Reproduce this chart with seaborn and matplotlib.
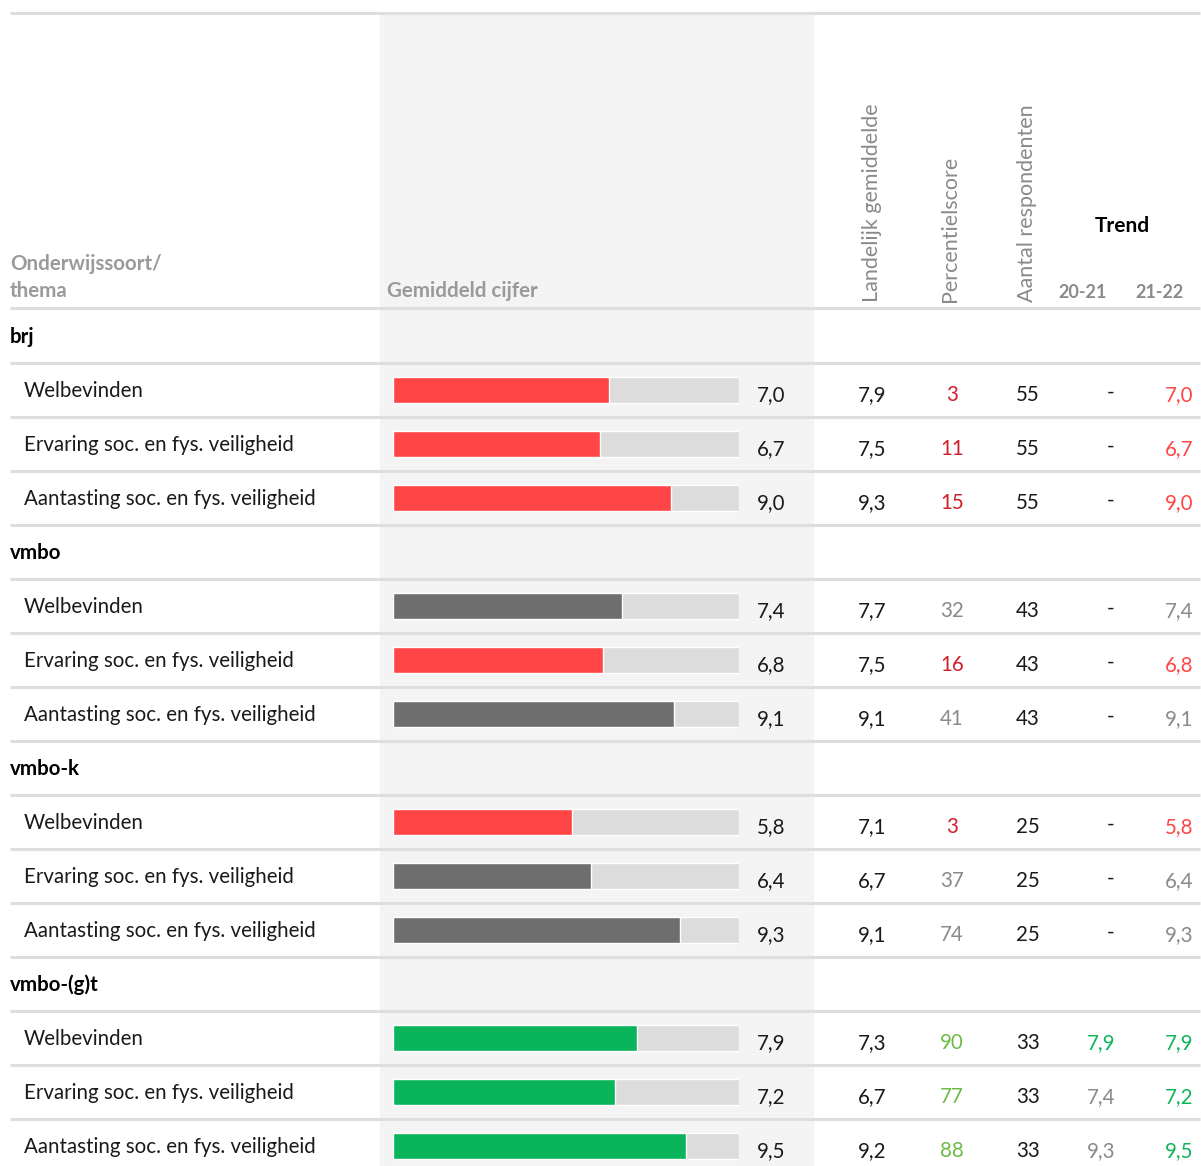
import matplotlib
matplotlib.use("Agg")
import matplotlib.pyplot as plt
import seaborn as sns
import pandas as pd

# ---------------- data ----------------
groups = ["brj", "vmbo", "vmbo-k", "vmbo-(g)t"]
themes = ["Welbevinden", "Ervaring soc. en fys. veiligheid", "Aantasting soc. en fys. veiligheid"]
gemiddeld = [7.0, 6.7, 9.0, 7.4, 6.8, 9.1, 5.8, 6.4, 9.3, 7.9, 7.2, 9.5]
landelijk = [7.9, 7.5, 9.3, 7.7, 7.5, 9.1, 7.1, 6.7, 9.1, 7.3, 6.7, 9.2]
percentiel = [3, 11, 15, 32, 16, 41, 3, 37, 74, 90, 77, 88]
respondenten = [55, 55, 55, 43, 43, 43, 25, 25, 25, 33, 33, 33]
trend_2021 = [None, None, None, None, None, None, None, None, None, 7.9, 7.4, 9.3]
trend_2122 = [7.0, 6.7, 9.0, 7.4, 6.8, 9.1, 5.8, 6.4, 9.3, 7.9, 7.2, 9.5]
status = ["laag", "laag", "laag", "gem", "laag", "gem", "laag", "gem", "gem", "hoog", "hoog", "hoog"]
status_2021 = [None] * 9 + ["hoog", "gem", "gem"]
scale_max = 11.2

# ---------------- styles ----------------
bar_colors = {"laag": "#ff4545", "gem": "#6e6e6e", "hoog": "#0ab45a"}
pct_colors = {"laag": "#d0202c", "gem": "#8a8a8a", "hoog": "#6dbb45"}
trend_colors = {"laag": "#ff4545", "gem": "#8a8a8a", "hoog": "#10b45a"}
FONT = ["Lato", "DejaVu Sans"]

sns.set_theme(style="white")
plt.rcParams["font.family"] = FONT

W, H = 1201, 1166
fig = plt.figure(figsize=(W / 100, H / 100), dpi=100)
fig.patch.set_facecolor("white")

# background / table axes in pixel layout coordinates
tab = fig.add_axes([0, 0, 1, 1], zorder=0)
tab.set_xlim(0, W)
tab.set_ylim(H, 0)
tab.axis("off")

ROW0 = 337      # centre of first row
ROWH = 54       # row height
n_rows = len(groups) * (len(themes) + 1)
FS = 14.8

# grey panel behind bars
tab.axvspan(380, 813, ymin=0, ymax=1 - 13 / H, color="#f4f4f4", zorder=0)

# lines
line_c = "#dedede"
tab.hlines(13, 10, 1200, color=line_c, lw=2.2, zorder=1)
tab.hlines(308, 10, 1200, color=line_c, lw=2.2, zorder=1)
for r in range(n_rows - 1):
    tab.hlines(ROW0 + ROWH * r + ROWH / 2 - 1, 10, 1200, color=line_c, lw=2.2, zorder=1)

# headers
hdr_grey = "#9a9a9a"
tab.text(10, 264, "Onderwijssoort/", fontsize=FS, fontweight="bold", color=hdr_grey, va="center", ha="left")
tab.text(10, 291, "thema", fontsize=FS, fontweight="bold", color=hdr_grey, va="center", ha="left")
tab.text(387, 291, "Gemiddeld cijfer", fontsize=FS, fontweight="bold", color=hdr_grey, va="center", ha="left")
for x, lbl in [(872, "Landelijk gemiddelde"), (950, "Percentielscore"), (1027, "Aantal respondenten")]:
    tab.text(x, 302, lbl, rotation=90, fontsize=15.5, color="#8a8a8a", ha="center", va="bottom")
tab.text(1122, 226, "Trend", fontsize=15, fontweight="bold", color="black", ha="center", va="center")
tab.text(1083, 292, "20-21", fontsize=13, fontweight="bold", color="#8a8a8a", ha="center", va="center")
tab.text(1160, 292, "21-22", fontsize=13, fontweight="bold", color="#8a8a8a", ha="center", va="center")


def fmt(v):
    return f"{v:.1f}".replace(".", ",")


# build rows
order = []
rows = []
i = 0
for g in groups:
    order.append(g)
    for t in themes:
        k = f"{g}|{t}"
        order.append(k)
        rows.append(dict(key=k, value=gemiddeld[i], status=status[i], track=scale_max))
        i += 1
df = pd.DataFrame(rows)

# table text
i = 0
for r, k in enumerate(order):
    y = ROW0 + ROWH * r
    if "|" not in k:
        tab.text(10, y, k, fontsize=FS, fontweight="bold", color="black", va="center", ha="left")
        continue
    tab.text(24, y, k.split("|")[1], fontsize=FS, color="#1a1a1a", va="center", ha="left")
    yy = y + 4
    tab.text(757, yy, fmt(gemiddeld[i]), fontsize=FS, color="#1a1a1a", va="center", ha="left")
    tab.text(872, yy, fmt(landelijk[i]), fontsize=FS, color="#1a1a1a", va="center", ha="center")
    tab.text(952, yy, str(percentiel[i]), fontsize=FS, color=pct_colors[status[i]], va="center", ha="center")
    tab.text(1028, yy, str(respondenten[i]), fontsize=FS, color="#1a1a1a", va="center", ha="center")
    if trend_2021[i] is None:
        tab.text(1114, yy - 2, "-", fontsize=FS, color="#1a1a1a", va="center", ha="right")
    else:
        tab.text(1115, yy, fmt(trend_2021[i]), fontsize=FS, color=trend_colors[status_2021[i]], va="center", ha="right")
    tab.text(1193, yy, fmt(trend_2122[i]), fontsize=FS, color=trend_colors[status[i]], va="center", ha="right")
    i += 1

# bar axes: x in score units, y categorical rows
top_px = ROW0 - ROWH / 2 - 1
bot_px = ROW0 + ROWH * (n_rows - 0.5) - 1
axb = fig.add_axes([393 / W, 1 - bot_px / H, 346 / W, (bot_px - top_px) / H], zorder=2)
axb.patch.set_alpha(0)
sns.barplot(data=df, x="track", y="key", order=order, color="#dcdcdc",
            width=0.48, errorbar=None, ax=axb, saturation=1)
sns.barplot(data=df, x="value", y="key", hue="status", order=order, palette=bar_colors,
            dodge=False, width=0.48, errorbar=None, ax=axb, saturation=1, legend=False)
axb.set_xlim(0, scale_max)
axb.set_ylim(n_rows - 0.5, -0.5)
axb.axis("off")

fig.savefig("out.png", dpi=100, facecolor="white")
